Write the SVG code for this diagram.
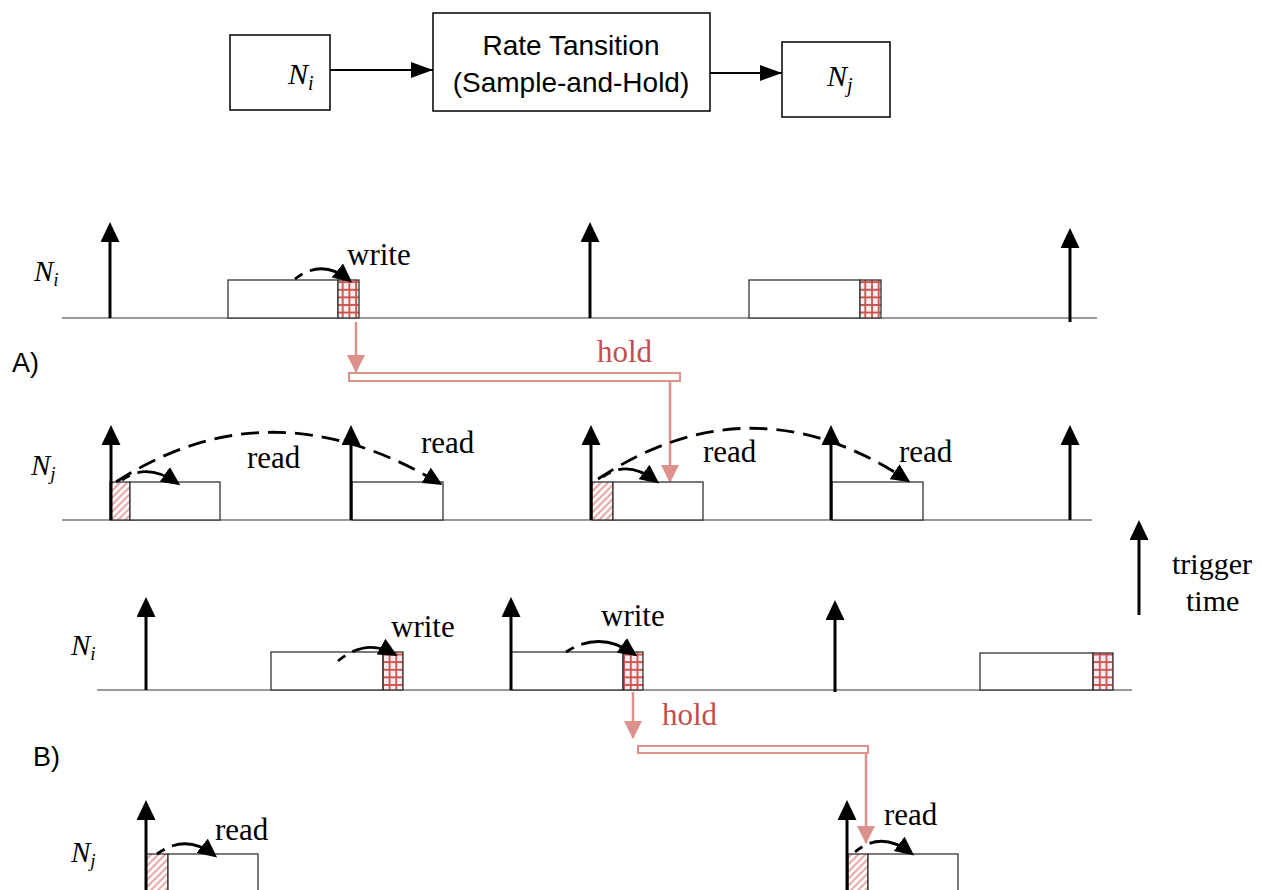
<svg xmlns="http://www.w3.org/2000/svg" width="1262" height="890" viewBox="0 0 1262 890">
<style>
.box{fill:#fff;stroke:#000;stroke-width:1.5}
.task{fill:#fff;stroke:#333;stroke-width:1.3}
.axis{stroke:#777;stroke-width:1.5}
.trig{stroke:#000;stroke-width:3;marker-end:url(#mTrig)}
.flow{stroke:#000;stroke-width:2;marker-end:url(#mFlow)}
.small{fill:none;stroke:#000;stroke-width:2.8;stroke-dasharray:9 8 80;marker-end:url(#mSmall)}
.big{fill:none;stroke:#000;stroke-width:2.8;stroke-dasharray:18 9}
.bigend{marker-end:url(#mSmall)}
.holdline{stroke:#dd918d;stroke-width:2.5;fill:none}
.holdarrow{marker-end:url(#mHold)}
.holdbar{fill:#fff;stroke:#dd918d;stroke-width:2}
.grid{fill:url(#pGrid);stroke:#333;stroke-width:1.3}
.hatch{fill:url(#pHatch);stroke:#333;stroke-width:1.3}
.serif{font-family:"Liberation Serif","Times New Roman",serif;font-size:31px;fill:#000}
.holdtxt{font-family:"Liberation Serif","Times New Roman",serif;font-size:31px;fill:#c0504d}
.lab{font-family:"Liberation Serif","Times New Roman",serif;font-size:29px;font-style:italic;fill:#000}
.sans{font-family:"Liberation Sans",Arial,sans-serif;fill:#000}
</style>
<defs>
<marker id="mTrig" markerUnits="userSpaceOnUse" markerWidth="20" markerHeight="19" refX="16" refY="9.5" orient="auto"><path d="M0,0 L20,9.5 L0,19 z" fill="#000"/></marker>
<marker id="mFlow" markerUnits="userSpaceOnUse" markerWidth="22" markerHeight="16" refX="22" refY="8" orient="auto"><path d="M0,0 L22,8 L0,16 z" fill="#000"/></marker>
<marker id="mSmall" markerUnits="userSpaceOnUse" markerWidth="19" markerHeight="18" refX="15" refY="9" orient="auto"><path d="M0,0 L19,9 L0,18 z" fill="#000"/></marker>
<marker id="mHold" markerUnits="userSpaceOnUse" markerWidth="18" markerHeight="18" refX="17" refY="9" orient="auto"><path d="M0,0 L18,9 L0,18 z" fill="#dd918d"/></marker>
<pattern id="pGrid" patternUnits="userSpaceOnUse" x="0" y="0" width="6.7" height="7.6">
<rect width="6.7" height="7.6" fill="#fbeeee"/>
<path d="M1,0 V7.6 M0,1 H6.7" stroke="#c9544f" stroke-width="1.8"/>
</pattern>
<pattern id="pHatch" patternUnits="userSpaceOnUse" width="5" height="5" patternTransform="rotate(45)">
<rect width="5" height="5" fill="#fff"/>
<path d="M1.2,0 V5" stroke="#e59a96" stroke-width="1.8"/>
</pattern>
</defs>
<rect width="1262" height="890" fill="#fff"/>

<!-- Top block diagram -->
<g id="node-ni-top">
<rect class="box" x="230" y="35" width="100" height="75"/>
<text class="lab" x="288" y="84" style="font-size:30px">N<tspan style="font-size:20px" dy="6">i</tspan></text>
</g>
<g id="node-rate">
<rect class="box" x="433" y="13" width="277" height="98"/>
<text class="sans" x="571" y="55" text-anchor="middle" font-size="28">Rate Tansition</text>
<text class="sans" x="571" y="92" text-anchor="middle" font-size="28">(Sample-and-Hold)</text>
</g>
<g id="node-nj-top">
<rect class="box" x="782" y="42" width="108" height="75"/>
<text class="lab" x="827" y="86" style="font-size:30px">N<tspan style="font-size:20px" dy="6">j</tspan></text>
</g>
<g id="connectors-top">
<line class="flow" x1="330" y1="70" x2="433" y2="70"/>
<line class="flow" x1="710" y1="73" x2="782" y2="73"/>
</g>

<!-- Section A -->
<g id="section-a-ni">
<line class="axis" x1="62" y1="318" x2="1097" y2="318"/>
<text class="lab" x="34" y="281">N<tspan style="font-size:19px" dy="5">i</tspan></text>
<rect class="task" x="228" y="280" width="110" height="38"/>
<rect class="grid" x="338" y="280" width="21" height="38"/>
<rect class="task" x="749" y="280" width="111" height="38"/>
<rect class="grid" x="860" y="280" width="21" height="38"/>
<line class="trig" x1="110" y1="318" x2="110" y2="226"/>
<line class="trig" x1="590" y1="318" x2="590" y2="226"/>
<line class="trig" x1="1070" y1="322" x2="1070" y2="232"/>
<path class="small" d="M295,279 Q322,258 349,280"/>
<text class="serif" x="347" y="265">write</text>
</g>
<text class="sans" x="12" y="372" font-size="27">A)</text>

<g id="hold-a">
<line class="holdline holdarrow" x1="356" y1="322" x2="356" y2="372"/>
<rect class="holdbar" x="349" y="373" width="331" height="8"/>
<line class="holdline holdarrow" x1="670" y1="381" x2="670" y2="482"/>
<text class="holdtxt" x="597" y="362">hold</text>
</g>

<g id="section-a-nj">
<line class="axis" x1="62" y1="520" x2="1092" y2="520"/>
<text class="lab" x="31" y="475">N<tspan style="font-size:19px" dy="5">j</tspan></text>
<rect class="hatch" x="110" y="482" width="20" height="38"/>
<rect class="task" x="130" y="482" width="90" height="38"/>
<rect class="task" x="352" y="482" width="91" height="38"/>
<rect class="hatch" x="592" y="482" width="21" height="38"/>
<rect class="task" x="613" y="482" width="90" height="38"/>
<rect class="task" x="832" y="482" width="91" height="38"/>
<line class="trig" x1="111" y1="520" x2="111" y2="429"/>
<line class="trig" x1="351" y1="520" x2="351" y2="429"/>
<line class="trig" x1="591" y1="520" x2="591" y2="429"/>
<line class="trig" x1="831" y1="520" x2="831" y2="429"/>
<line class="trig" x1="1070" y1="520" x2="1070" y2="429"/>
<path class="big bigend" d="M116,482 Q270,382 439,483"/>
<path class="small" d="M122,480 Q147,462 177,483"/>
<path class="big bigend" d="M598,479 Q752,377 907,480"/>
<path class="small" d="M603,477 Q627,459 656,481"/>
<text class="serif" x="247" y="468">read</text>
<text class="serif" x="421" y="453">read</text>
<text class="serif" x="703" y="462">read</text>
<text class="serif" x="899" y="462">read</text>
</g>

<g id="legend">
<line class="trig" x1="1139" y1="615" x2="1139" y2="524"/>
<text class="serif" x="1172" y="574" style="font-size:30px">trigger</text>
<text class="serif" x="1186" y="611" style="font-size:30px">time</text>
</g>

<!-- Section B -->
<g id="section-b-ni">
<line class="axis" x1="97" y1="690" x2="1132" y2="690"/>
<text class="lab" x="71" y="655">N<tspan style="font-size:19px" dy="5">i</tspan></text>
<rect class="task" x="271" y="652" width="112" height="38"/>
<rect class="grid" x="383" y="652" width="20" height="38"/>
<rect class="task" x="511" y="652" width="112" height="38"/>
<rect class="grid" x="623" y="652" width="20" height="38"/>
<rect class="task" x="980" y="653" width="113" height="37"/>
<rect class="grid" x="1093" y="653" width="20" height="37"/>
<line class="trig" x1="146" y1="690" x2="146" y2="601"/>
<line class="trig" x1="511" y1="690" x2="511" y2="601"/>
<line class="trig" x1="835" y1="692" x2="835" y2="604"/>
<path class="small" d="M338,661 Q366,638 394,654"/>
<path class="small" d="M566,652 Q600,630 634,654"/>
<text class="serif" x="391" y="637">write</text>
<text class="serif" x="601" y="626">write</text>
</g>
<text class="sans" x="33" y="766" font-size="27">B)</text>

<g id="hold-b">
<line class="holdline holdarrow" x1="633" y1="692" x2="633" y2="738"/>
<rect class="holdbar" x="638" y="746" width="230" height="7"/>
<line class="holdline holdarrow" x1="866" y1="753" x2="866" y2="843"/>
<text class="holdtxt" x="662" y="725">hold</text>
</g>

<g id="section-b-nj">
<text class="lab" x="71" y="862">N<tspan style="font-size:19px" dy="5">j</tspan></text>
<rect class="hatch" x="146" y="854" width="22" height="40"/>
<rect class="task" x="168" y="854" width="90" height="40"/>
<rect class="hatch" x="848" y="854" width="20" height="40"/>
<rect class="task" x="868" y="854" width="90" height="40"/>
<line class="trig" x1="146" y1="890" x2="146" y2="804"/>
<line class="trig" x1="847" y1="890" x2="847" y2="804"/>
<path class="small" d="M157,854 Q186,833 214,855"/>
<path class="small" d="M855,852 Q881,830 911,853"/>
<text class="serif" x="215" y="840">read</text>
<text class="serif" x="884" y="825">read</text>
</g>
</svg>
